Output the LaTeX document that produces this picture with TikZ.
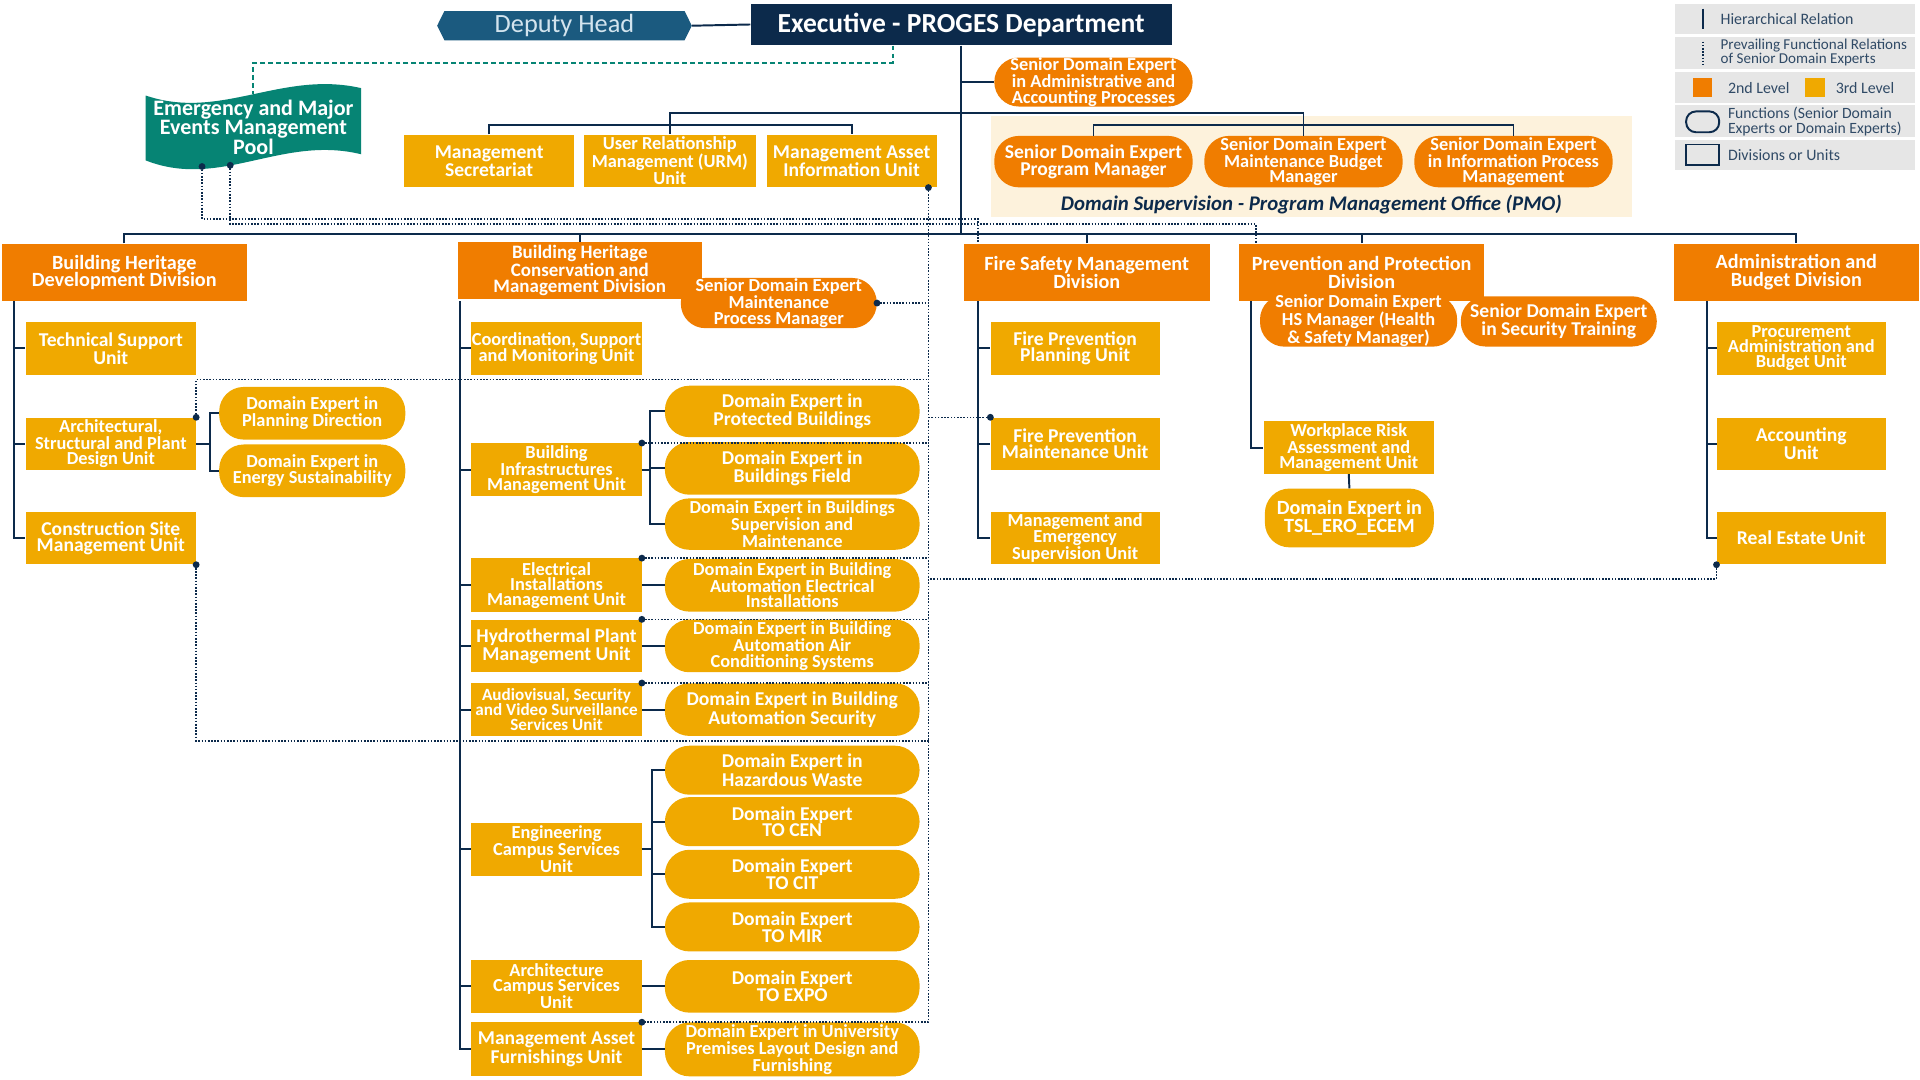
\documentclass[tikz,border=0pt]{standalone}
\usepackage{fontspec}
\setmainfont{Carlito}
\usepackage{tikz}
\usetikzlibrary{shapes.symbols}

\definecolor{navy}{HTML}{0C2A4B}
\definecolor{lvltwo}{HTML}{F07D00}
\definecolor{lvlthree}{HTML}{F0A900}
\definecolor{poolteal}{HTML}{068474}
\definecolor{deputyblue}{HTML}{1B5A7F}
\definecolor{deputytext}{HTML}{D3E4EE}
\definecolor{pmocream}{HTML}{FDF2DC}
\definecolor{leggray}{HTML}{E6E6E6}

\begin{document}
\begin{tikzpicture}[x=1pt,y=-1pt,
  unitbox/.style={fill=lvlthree, text=white, align=center, inner sep=0pt, minimum width=139pt, minimum height=43pt, font=\bfseries\fontsize{16}{13.5}\selectfont},
  divbox/.style={fill=lvltwo, text=white, align=center, inner sep=0pt, minimum width=200pt, minimum height=47pt, font=\bfseries\fontsize{16.5}{14.5}\selectfont},
  expert/.style={fill=lvlthree, text=white, align=center, inner sep=0pt, rounded corners=20pt, minimum width=208pt, minimum height=43pt, font=\bfseries\fontsize{16}{13.5}\selectfont},
  senior/.style={fill=lvltwo, text=white, align=center, inner sep=0pt, rounded corners=20pt, minimum width=162pt, minimum height=42pt, font=\bfseries\fontsize{16}{13.5}\selectfont},
  tight/.style={font=\bfseries\fontsize{15}{12.4}\selectfont},
  legtext/.style={anchor=west, align=left, inner sep=0pt, text=navy!85, font=\fontsize{13}{11}\selectfont},
  hier/.style={draw=navy, line width=1.6pt},
  func/.style={draw=navy, line width=1.3pt, dash pattern=on 1.3pt off 1.3pt},
  emerg/.style={draw=poolteal, line width=1.6pt, dash pattern=on 4pt off 2.5pt}
]
  \useasboundingbox (0,0) rectangle (1568,882);
  \fill[white] (0,0) rectangle (1568,882);

  % head and staff
  \fill[pmocream] (809,95) rectangle (1333,177);
  \node [font=\bfseries\itshape\fontsize{17}{17}\selectfont, text=navy] (pmo) at (1071,167) {Domain Supervision - Program Management Office (PMO)};
  \node [fill=navy, text=white, minimum width=344pt, minimum height=34pt, inner sep=0pt, font=\bfseries\fontsize{22.5}{22.5}\selectfont] (exec) at (785,20) {Executive - PROGES Department};
  \node [signal, signal to=east and west, signal pointer angle=127, fill=deputyblue, text=deputytext, minimum width=208pt, minimum height=24pt, inner sep=0pt, font=\fontsize{21.5}{21.5}\selectfont] (deputy) at (461,21) {Deputy Head};

  \fill[poolteal] (119,78) .. controls (180,99) and (230,57) .. (295,72) -- (295,126) .. controls (230,110) and (180,155) .. (119,131) -- cycle;
  \node [text=white, align=center, font=\bfseries\fontsize{18}{15.5}\selectfont] (pool) at (207,104) {Emergency and Major\\Events Management\\Pool};
  \coordinate (pooltop) at (207,77);
  \coordinate (pooldot1) at (165,136);
  \coordinate (pooldot2) at (188,135);

  \node [senior, tight, minimum height=40pt] (sadm) at (893,67) {Senior Domain Expert\\in Administrative and\\Accounting Processes};
  \node [unitbox] (msec) at (399.5,131.5) {Management\\Secretariat};
  \node [unitbox, tight, minimum width=140pt] (urm) at (547,131.5) {User Relationship\\Management (URM)\\Unit};
  \node [unitbox] (maiu) at (695.5,131.5) {Management Asset\\Information Unit};
  \node [senior] (sprog) at (893,132) {Senior Domain Expert\\Program Manager};
  \node [senior, tight] (sbud) at (1064.5,132) {Senior Domain Expert\\Maintenance Budget\\Manager};
  \node [senior, tight] (sinfo) at (1236,132) {Senior Domain Expert\\in Information Process\\Management};

  % divisions
  \node [divbox] (bhdd) at (101.5,222.5) {Building Heritage\\Development Division};
  \node [divbox, minimum width=199pt, font=\bfseries\fontsize{15.5}{12.8}\selectfont] (bhcm) at (473.5,221) {Building Heritage\\Conservation and\\Management Division};
  \node [divbox, minimum width=201pt] (fsd) at (887.5,222.5) {Fire Safety Management\\Division};
  \node [divbox] (ppd) at (1112,222.5) {Prevention and Protection\\Division};
  \node [divbox] (abd) at (1467,222.5) {Administration and\\Budget Division};

  % building heritage development
  \node [unitbox] (tsu) at (90.5,284.5) {Technical Support\\Unit};
  \node [unitbox, tight] (asdu) at (90.5,362.5) {Architectural,\\Structural and Plant\\Design Unit};
  \node [unitbox] (csmu) at (90.5,439.5) {Construction Site\\Management Unit};
  \node [expert, minimum width=152pt, font=\bfseries\fontsize{15}{13.5}\selectfont] (plan) at (255,337.5) {Domain Expert in\\Planning Direction};
  \node [expert, minimum width=152pt, font=\bfseries\fontsize{15}{13.5}\selectfont] (ener) at (255,384.5) {Domain Expert in\\Energy Sustainability};

  % building heritage conservation
  \node [unitbox, font=\bfseries\fontsize{15}{13.5}\selectfont] (csmon) at (454.5,284.5) {Coordination, Support\\and Monitoring Unit};
  \node [unitbox, tight] (bimu) at (454.5,383.5) {Building\\Infrastructures\\Management Unit};
  \node [unitbox, tight, minimum height=44pt] (eimu) at (454.5,478) {Electrical\\Installations\\Management Unit};
  \node [unitbox] (hpmu) at (454.5,527.5) {Hydrothermal Plant\\Management Unit};
  \node [unitbox, font=\bfseries\fontsize{14}{12.2}\selectfont] (avsu) at (454.5,579.5) {Audiovisual, Security\\and Video Surveillance\\Services Unit};
  \node [unitbox, tight] (ecsu) at (454.5,693.5) {Engineering\\Campus Services\\Unit};
  \node [unitbox, tight] (acsu) at (454.5,805.5) {Architecture\\Campus Services\\Unit};
  \node [unitbox, minimum height=44pt] (mafu) at (454.5,857) {Management Asset\\Furnishings Unit};

  \node [senior, tight, minimum width=160pt, minimum height=41pt] (smpm) at (636,247.5) {Senior Domain Expert\\Maintenance\\Process Manager};
  \node [expert, minimum height=42pt] (pbld) at (647,336) {Domain Expert in\\Protected Buildings};
  \node [expert] (bfld) at (647,382.5) {Domain Expert in\\Buildings Field};
  \node [expert, tight, minimum height=42pt] (bsup) at (647,428) {Domain Expert in Buildings\\Supervision and\\Maintenance};
  \node [expert, tight] (baei) at (647,478) {Domain Expert in Building\\Automation Electrical\\Installations};
  \node [expert, tight] (baac) at (647,527.5) {Domain Expert in Building\\Automation Air\\Conditioning Systems};
  \node [expert] (bas) at (647,579.5) {Domain Expert in Building\\Automation Security};
  \node [expert, minimum height=40pt] (haz) at (647,629) {Domain Expert in\\Hazardous Waste};
  \node [expert, minimum height=40pt] (cen) at (647,671) {Domain Expert\\TO CEN};
  \node [expert, minimum height=40pt] (cit) at (647,714) {Domain Expert\\TO CIT};
  \node [expert, minimum height=40pt] (mir) at (647,757) {Domain Expert\\TO MIR};
  \node [expert] (expo) at (647,805.5) {Domain Expert\\TO EXPO};
  \node [expert, tight, minimum height=44pt] (upl) at (647,857) {Domain Expert in University\\Premises Layout Design and\\Furnishing};

  % fire safety
  \node [unitbox, minimum width=138pt] (fpp) at (878,284.5) {Fire Prevention\\Planning Unit};
  \node [unitbox, minimum width=138pt] (fpm) at (878,362.5) {Fire Prevention\\Maintenance Unit};
  \node [unitbox, tight, minimum width=138pt] (mes) at (878,439.5) {Management and\\Emergency\\Supervision Unit};

  % prevention and protection
  \node [senior, tight, minimum width=161pt] (shs) at (1109.5,262) {Senior Domain Expert\\HS Manager (Health\\\& Safety Manager)};
  \node [senior, minimum width=160pt, minimum height=41pt] (strain) at (1273,262.5) {Senior Domain Expert\\in Security Training};
  \node [unitbox, tight] (wram) at (1101.5,365.5) {Workplace Risk\\Assessment and\\Management Unit};
  \node [expert, minimum width=138pt, minimum height=48pt, font=\bfseries\fontsize{16.5}{14.5}\selectfont] (tsl) at (1102,423) {Domain Expert in\\TSL\_ERO\_ECEM};

  % administration and budget
  \node [unitbox, tight, minimum width=138pt] (pabu) at (1471,284.5) {Procurement\\Administration and\\Budget Unit};
  \node [unitbox, minimum width=138pt] (accu) at (1471,362.5) {Accounting\\Unit};
  \node [unitbox, minimum width=138pt] (reu) at (1471,439.5) {Real Estate Unit};

  % hierarchical relations
  \draw[hier] (deputy.east) -- (exec.west);
  \draw[emerg] ([xshift=-56pt]exec.south) -- ++(0,14) -| (pooltop);
  \draw[hier] (exec.south) -- ++(0,154);
  \draw[hier] (exec.south |- sadm.west) -- (sadm.west);
  \draw[hier] ([yshift=-55pt]exec.south) -| (urm.north);
  \draw[hier] (msec.north) -- ++(0,-8) -| (maiu.north);
  \draw[hier] ([yshift=-55pt]exec.south) -| (sbud.north);
  \draw[hier] (sprog.north) -- ++(0,-9) -| (sinfo.north);

  \draw[hier] (bhdd.north) -- ++(0,-8) -| (abd.north);
  \foreach \d in {fsd,ppd} \draw[hier] (\d.north) -- ++(0,-8);
  \draw[hier] (bhcm.north) -- ++(0,-6.5);

  \foreach \u in {tsu,asdu,csmu} \draw[hier] ([xshift=10pt]bhdd.south west) |- (\u.west);
  \foreach \u in {csmon,bimu,eimu,hpmu,avsu,ecsu,acsu,mafu} \draw[hier] ([xshift=2pt,yshift=-1.5pt]bhcm.south west) |- (\u.west);
  \foreach \u in {fpp,fpm,mes} \draw[hier] ([xshift=12pt]fsd.south west) |- (\u.west);
  \draw[hier] ([xshift=10pt]ppd.south west) |- (wram.west);
  \foreach \u in {pabu,accu,reu} \draw[hier] ([xshift=27pt]abd.south west) |- (\u.west);

  \foreach \e in {plan,ener} \draw[hier] (asdu.east) -- ++(11,0) |- (\e.west);
  \foreach \e in {pbld,bfld,bsup} \draw[hier] (bimu.east) -- ++(7,0) |- (\e.west);
  \foreach \e in {haz,cen,cit,mir} \draw[hier] (ecsu.east) -- ++(8,0) |- (\e.west);
  \draw[hier] (eimu.east) -- (baei.west);
  \draw[hier] (hpmu.east) -- (baac.west);
  \draw[hier] (avsu.east) -- (bas.west);
  \draw[hier] (acsu.east) -- (expo.west);
  \draw[hier] (mafu.east) -- (upl.west);
  \draw[hier] (wram.south) -- (tsl.north);

  % functional relations
  \coordinate (maiudot) at ([xshift=-7pt]maiu.south east);
  \coordinate (f310) at (758.5,310);
  \coordinate (f605) at (758.5,605);
  \coordinate (f473) at (758.5,473);
  \draw[func] (maiudot) -- (maiudot |- mafu.north east) -- (mafu.north east);
  \draw[func] (smpm.east) -- (smpm.east -| maiudot);
  \draw[func] (asdu.north east) |- (f310);
  \draw[func] (csmu.south east) |- (f605);
  \foreach \u in {bimu,eimu,hpmu,avsu} \draw[func] (\u.north east) -- (\u.north east -| maiudot);
  \draw[func] (fpm.north west) -- (fpm.north west -| maiudot);
  \draw[func] (reu.south west) |- (f473);
  \draw[func] (pooldot1) -- ++(0,43) -| ([xshift=12pt]fsd.north west);
  \draw[func] (pooldot2) -- ++(0,48) -| ([xshift=14pt]ppd.north west);
  \foreach \p in {pooldot1,pooldot2,maiudot,smpm.east,asdu.north east,csmu.south east,bimu.north east,eimu.north east,hpmu.north east,avsu.north east,mafu.north east,fpm.north west,reu.south west}
    \fill[navy] (\p) circle (2.8pt);

  % legend
  \foreach \y/\h in {15.5/25,43/26,71.5/25,99/26,126.5/25}
    \fill[leggray] (1368,{\y-\h/2}) rectangle (1564,{\y+\h/2});
  \draw[hier] (1391,7) -- (1391,24);
  \node [legtext] (lhier) at (1405,15.5) {Hierarchical Relation};
  \draw[func] (1391,34) -- (1391,53);
  \node [legtext, font=\fontsize{12.3}{11}\selectfont] (lfunc) at (1405,43) {Prevailing Functional Relations\\of Senior Domain Experts};
  \fill[lvltwo] (1383,64) rectangle (1398,79);
  \node [legtext] (ltwo) at (1411,71.5) {2nd Level};
  \fill[lvlthree] (1474,64) rectangle (1490,79);
  \node [legtext] (lthree) at (1499,71.5) {3rd Level};
  \draw[navy, line width=1.6pt, rounded corners=8pt] (1377,91) rectangle (1404,108);
  \node [legtext, font=\fontsize{12.8}{11}\selectfont] (lfunction) at (1411,99) {Functions (Senior Domain\\Experts or Domain Experts)};
  \draw[navy, line width=1.6pt] (1377,118) rectangle (1404,135);
  \node [legtext] (lunit) at (1411,126.5) {Divisions or Units};

\end{tikzpicture}
\end{document}
